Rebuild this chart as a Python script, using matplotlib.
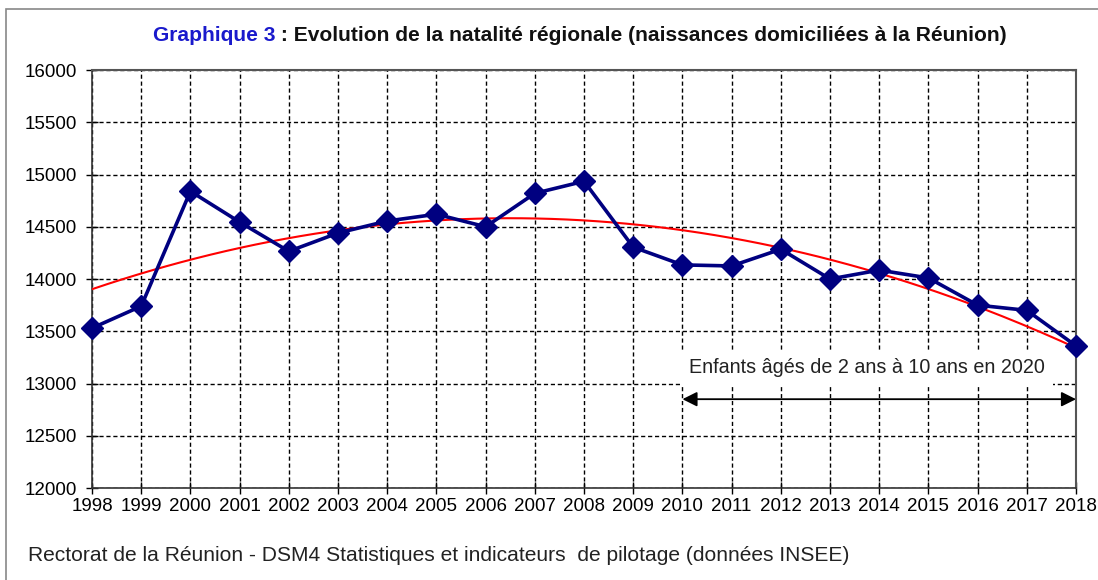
import numpy as np
import matplotlib
matplotlib.use("Agg")
import matplotlib.pyplot as plt
from matplotlib.patches import Rectangle

plt.rcParams['font.family'] = ['Liberation Sans', 'DejaVu Sans']

years = list(range(1998, 2019))
naissances = [13530, 13740, 14840, 14545, 14265, 14440, 14555, 14620, 14500, 14820,
              14935, 14305, 14135, 14125, 14285, 14000, 14085, 14010, 13750, 13700, 13360]
yticks = list(range(12000, 16001, 500))

fig = plt.figure(figsize=(10.98, 5.80), dpi=100)
ax = fig.add_axes([0.0838, 0.1586, 0.8962, 0.7207])

# cadre de la figure
fig.patches.append(Rectangle((0.0055, -0.1), 1.2, 1.0845, transform=fig.transFigure,
                             fill=False, edgecolor='#888888', linewidth=1.2))

# tendance polynomiale (ordre 2)
coef = np.polyfit(years, naissances, 2)
xs = np.linspace(1998, 2018, 200)
ax.plot(xs, np.polyval(coef, xs), color='red', linewidth=1.5, zorder=3)

ax.plot(years, naissances, color='#000080', linewidth=2.6, marker='D',
        markersize=11, zorder=4, clip_on=False)

ax.set_xlim(1998, 2018)
ax.set_ylim(12000, 16000)
ax.set_xticks(years)
ax.set_yticks(yticks)
ax.tick_params(axis='x', labelsize=13.5, direction='inout', length=8, width=1, pad=3)
ax.tick_params(axis='y', labelsize=13.5, direction='inout', length=8, width=1, pad=7)
ax.grid(True, color='black', linestyle=(0, (3, 2)), linewidth=1)
ax.set_axisbelow(True)
for s in ['top', 'right']:
    ax.spines[s].set_color('#555555')
    ax.spines[s].set_linewidth(1.5)
for s in ['left', 'bottom']:
    ax.spines[s].set_color('#333333')
    ax.spines[s].set_linewidth(1.2)

# annotation
ax.text(2013.75, 13150, "Enfants âgés de 2 ans à 10 ans en 2020", ha='center', va='center',
        fontsize=14.2, color='#222222', zorder=5,
        bbox=dict(facecolor='white', edgecolor='none', pad=6))
ax.annotate('', xy=(2018, 12850), xytext=(2010, 12850),
            arrowprops=dict(arrowstyle='<|-|>', color='black', lw=1.3,
                            mutation_scale=22, shrinkA=0, shrinkB=0), zorder=5)

# titre
t1 = fig.text(0.1393, 0.938, "Graphique 3", color='#1a1acc', fontsize=15.1,
              fontweight='bold', ha='left', va='center')
fig.canvas.draw()
bb = t1.get_window_extent()
fig.text(bb.x1 / fig.bbox.width, 0.938,
         " : Evolution de la natalité régionale (naissances domiciliées à la Réunion)",
         color='#111111', fontsize=15.1, fontweight='bold', ha='left', va='center')

fig.text(0.0255, 0.043,
         "Rectorat de la Réunion - DSM4 Statistiques et indicateurs  de pilotage (données INSEE)",
         fontsize=15.1, color='#222222', ha='left', va='center')

fig.savefig("out.png", dpi=100)
